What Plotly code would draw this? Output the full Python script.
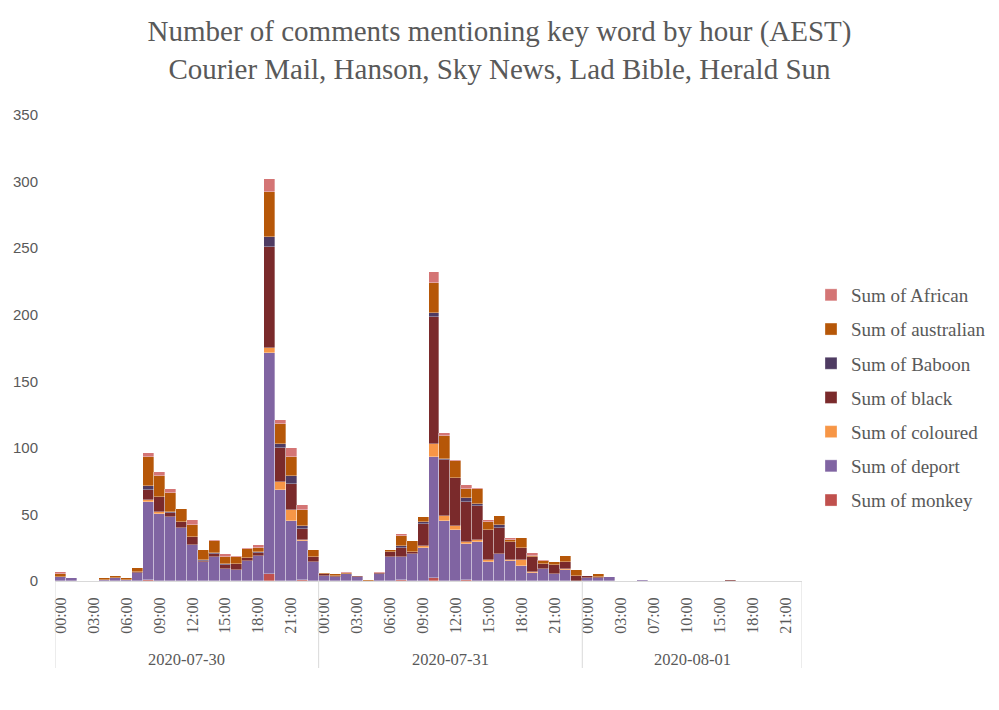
import plotly.graph_objects as go

# ---------------- data ----------------
days = ["2020-07-30", "2020-07-31", "2020-08-01"]
hours_0730 = ["00:00", "01:00", "02:00", "03:00", "04:00", "05:00", "06:00", "07:00",
              "08:00", "09:00", "10:00", "11:00", "12:00", "13:00", "14:00", "15:00",
              "16:00", "17:00", "18:00", "19:00", "20:00", "21:00", "22:00", "23:00"]
hours_0731 = ["00:00", "01:00", "02:00", "03:00", "04:00", "05:00", "06:00", "07:00",
              "08:00", "09:00", "10:00", "11:00", "12:00", "13:00", "14:00", "15:00",
              "16:00", "17:00", "18:00", "19:00", "20:00", "21:00", "22:00", "23:00"]
hours_0801 = ["00:00", "01:00", "02:00", "03:00", "05:00", "06:00", "07:00", "08:00",
              "09:00", "10:00", "12:00", "14:00", "15:00", "16:00", "17:00", "18:00",
              "19:00", "20:00", "21:00", "22:00"]

# values per hour (day1 24 | day2 24 | day3 20)
monkey = [0, 0, 0, 0, 0, 0, 0, 0, 1, 0, 0, 0, 0, 0, 0, 0, 0, 0, 0, 5, 0, 0, 1, 0,
          0, 0, 0, 0, 0, 0, 0, 1, 0, 0, 2, 0, 0, 1, 0, 0, 0, 0, 0, 0, 0, 0, 0, 0,
          0, 0, 0, 0, 0, 0, 0, 0, 0, 0, 0, 0, 0, 0, 0, 0, 0, 0, 0, 0]
deport = [3, 2, 0, 0, 1, 2, 1, 6, 58, 50, 48, 40, 27, 14, 18, 9, 8, 15, 19, 166, 68, 45, 29, 14,
          4, 3, 5, 3, 0, 5, 18, 17, 20, 25, 91, 45, 38, 27, 29, 14, 20, 15, 11, 6, 9, 5, 8, 0,
          2, 2, 3, 0, 0, 1, 0, 0, 0, 0, 0, 0, 0, 0, 0, 0, 0, 0, 0, 0]
coloured = [0, 0, 0, 0, 0, 0, 0, 0, 2, 2, 0, 0, 0, 0, 0, 0, 0, 0, 0, 4, 6, 8, 1, 0,
            0, 0, 0, 0, 0, 0, 0, 0, 0, 1, 10, 4, 3, 1, 2, 2, 0, 1, 5, 1, 0, 0, 1, 0,
            0, 0, 0, 0, 0, 0, 0, 0, 0, 0, 0, 0, 0, 0, 0, 0, 0, 0, 0, 0]
black = [0, 0, 0, 0, 0, 0, 0, 1, 7, 11, 3, 4, 6, 1, 2, 3, 5, 2, 2, 76, 26, 20, 8, 4,
         1, 1, 0, 1, 0, 1, 4, 7, 2, 17, 95, 42, 36, 30, 25, 22, 20, 13, 9, 11, 4, 7, 5, 4,
         2, 1, 0, 0, 0, 0, 0, 0, 0, 0, 0, 0, 0, 1, 0, 0, 0, 0, 0, 0]
baboon = [0, 0, 0, 0, 0, 0, 0, 0, 3, 0, 1, 0, 0, 1, 1, 1, 0, 0, 1, 7, 3, 6, 2, 0,
          0, 0, 0, 0, 0, 0, 0, 1, 0, 1, 3, 1, 0, 3, 2, 0, 2, 0, 0, 0, 0, 0, 0, 0,
          0, 0, 0, 0, 0, 0, 0, 0, 0, 0, 0, 0, 0, 0, 0, 0, 0, 0, 0, 0]
australian = [2, 0, 0, 0, 1, 2, 1, 3, 22, 16, 14, 10, 9, 7, 9, 5, 5, 7, 3, 34, 15, 14, 12, 5,
              1, 1, 1, 0, 1, 0, 1, 8, 8, 4, 23, 17, 13, 7, 11, 6, 7, 2, 7, 1, 2, 2, 5, 4,
              0, 2, 0, 0, 0, 0, 0, 0, 0, 0, 0, 0, 0, 0, 0, 0, 0, 0, 0, 0]
african = [2, 0, 0, 0, 0, 0, 0, 0, 3, 3, 3, 0, 4, 0, 1, 2, 1, 1, 2, 10, 3, 7, 4, 0,
           0, 0, 1, 0, 0, 1, 0, 1, 0, 0, 8, 2, 1, 3, 1, 2, 0, 1, 0, 2, 1, 0, 0, 0,
           0, 0, 0, 0, 0, 0, 0, 0, 0, 0, 0, 0, 0, 0, 0, 0, 0, 0, 0, 0]

series_names = ["Sum of monkey", "Sum of deport", "Sum of coloured", "Sum of black",
                "Sum of Baboon", "Sum of australian", "Sum of African"]
series_values = [monkey, deport, coloured, black, baboon, australian, african]
series_colors = ["#c0504d", "#8064a2", "#f79646", "#7a2a2b", "#4e3b62", "#b65708", "#d47575"]

# ---------------- build categories ----------------
day_hours = [hours_0730, hours_0731, hours_0801]
cats = [(d, h) for d, hs in zip(days, day_hours) for h in hs]
xpos = list(range(len(cats)))

tickvals, ticktext = [], []
day_bounds = [-0.5]
day_centers = []
start = 0
for hs in day_hours:
    for i, h in enumerate(hs):
        if i % 3 == 0:
            tickvals.append(start + i)
            ticktext.append(h)
    day_centers.append(start + (len(hs) - 1) / 2)
    start += len(hs)
    day_bounds.append(start - 0.5)

SERIF = "Liberation Serif"
GREY = "#595959"

fig = go.Figure()
n_series = len(series_names)
for k, (name, vals, col) in enumerate(zip(series_names, series_values, series_colors)):
    fig.add_trace(go.Bar(
        x=xpos, y=vals, name=name, legendgroup=name, legendrank=n_series - k,
        marker=dict(color=col, line=dict(color="rgba(255,255,255,0.55)", width=0.6)),
        customdata=[f"{d} {h}" for d, h in cats],
        hovertemplate="%{customdata}<br>%{y}<extra>" + name + "</extra>",
    ))

W, H = 999, 710
OFF = 8  # page body margin offset
L, R, T, B = 55 - OFF, 802 - OFF, 115 - OFF, 581 - OFF
plot_h = B - T

shapes = []
for xb in day_bounds:
    shapes.append(dict(type="line", xref="x", yref="paper", x0=xb, x1=xb,
                       y0=0, y1=-(87) / plot_h,
                       line=dict(color="#d9d9d9", width=1)))

annotations = []
for d, c in zip(days, day_centers):
    annotations.append(dict(x=c, xref="x", y=-(78) / plot_h, yref="paper",
                            text=d, showarrow=False, yanchor="middle",
                            font=dict(family=SERIF, size=16.5, color=GREY)))

fig.update_layout(
    width=W, height=H,
    margin=dict(l=L, r=W - R, t=T, b=H - B, pad=0, autoexpand=False),
    barmode="stack", bargap=0,
    plot_bgcolor="white", paper_bgcolor="white",
    title=dict(text="Number of comments mentioning key word by hour (AEST)<br>"
                    "Courier Mail, Hanson, Sky News, Lad Bible, Herald Sun",
               x=(499.5 - OFF) / W, xref="container", xanchor="center",
               y=1 - 33 / H, yref="container", yanchor="top",
               font=dict(family=SERIF, size=29, color=GREY)),
    xaxis=dict(range=[-0.5, len(cats) - 0.5], tickmode="array",
               tickvals=tickvals, ticktext=ticktext, tickangle=-90,
               tickfont=dict(family=SERIF, size=16, color=GREY),
               showline=True, linecolor="#d9d9d9", linewidth=1, automargin=False,
               showgrid=False, zeroline=False, ticks="", ticklabelstandoff=9),
    yaxis=dict(range=[0, 350], dtick=50, showgrid=False, zeroline=False,
               showline=False, ticks="", ticklabelstandoff=16, automargin=False,
               tickfont=dict(family="Liberation Sans", size=15, color=GREY)),
    legend=dict(traceorder="grouped", tracegroupgap=6.5,
                x=(811 - 55) / (802 - 55), xanchor="left",
                y=(581 - 276) / (581 - 115), yanchor="top",
                font=dict(family=SERIF, size=19, color=GREY),
                bgcolor="rgba(0,0,0,0)"),
    shapes=shapes, annotations=annotations,
)

fig.write_html("out.html")
